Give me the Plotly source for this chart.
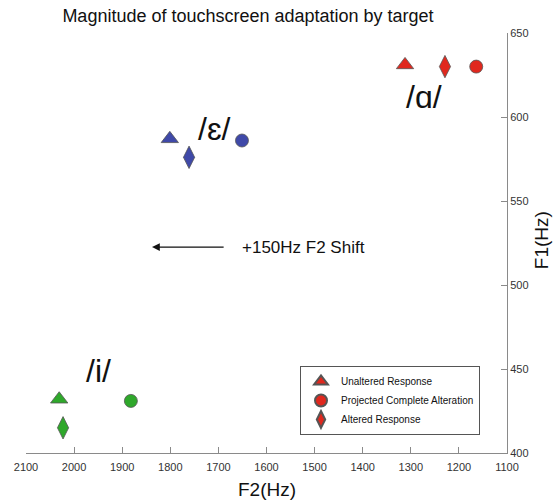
import plotly.graph_objects as go

# Formant values (Hz) per vowel target
vowels = ["/ɑ/", "/ɛ/", "/i/"]
colors = ["#e0281e", "#3f49a8", "#2fa82b"]

unaltered_f2 = [1312, 1801, 2031]
unaltered_f1 = [631, 587, 432]

projected_f2 = [1164, 1651, 1882]
projected_f1 = [630, 586, 431]

altered_f2 = [1229, 1761, 2023]
altered_f1 = [630, 576, 415]

# Vowel label anchor positions (F2, F1)
label_f2 = [1273, 1709, 1950]
label_f1 = [612, 593, 449]

series = [
    ("Unaltered Response", "triangle-up", unaltered_f2, unaltered_f1, 15),
    ("Projected Complete Alteration", "circle", projected_f2, projected_f1, 13),
    ("Altered Response", "diamond-tall", altered_f2, altered_f1, 16),
]

fig = go.Figure()

for name, symbol, f2, f1, size in series:
    for i, v in enumerate(vowels):
        fig.add_trace(go.Scatter(
            x=[f2[i]], y=[f1[i]], mode="markers", name=name,
            showlegend=(i == 0),
            marker=dict(symbol=symbol, size=size, color=colors[i],
                        line=dict(color="#555555", width=0.8)),
        ))

for i, v in enumerate(vowels):
    fig.add_annotation(x=label_f2[i], y=label_f1[i], text=v, showarrow=False,
                       font=dict(size=32, color="#111111"))

# Shift arrow and its caption
fig.add_annotation(x=1838, y=522.6, ax=1686, ay=522.6, axref="x", ayref="y",
                   text="", showarrow=True, arrowhead=2, arrowsize=1.3,
                   arrowwidth=1.2, arrowcolor="#111111")
fig.add_annotation(x=1655, y=522.6, text="+150Hz F2 Shift", showarrow=False,
                   xanchor="left", yanchor="middle", font=dict(size=17, color="#111111"))

# Axis titles
fig.add_annotation(x=0.501, y=-0.088, xref="paper", yref="paper", text="F2(Hz)",
                   xanchor="center", yanchor="middle",
                   showarrow=False, font=dict(size=19, color="#111111"))
fig.add_annotation(x=1.071, y=0.507, xref="paper", yref="paper", text="F1(Hz)",
                   xanchor="center", yanchor="middle",
                   textangle=-90, showarrow=False, font=dict(size=19, color="#111111"))

fig.update_layout(
    width=553, height=502,
    margin=dict(l=26, r=46, t=33, b=49),
    paper_bgcolor="white", plot_bgcolor="white",
    font=dict(family="Liberation Sans, Arial, sans-serif", color="#222222"),
    title=dict(text="Magnitude of touchscreen adaptation by target",
               x=248 / 553, xanchor="center", y=1 - 16 / 502, yanchor="middle",
               font=dict(size=18, color="#111111")),
    xaxis=dict(range=[2100, 1100], tickvals=list(range(2100, 1099, -100)),
               showgrid=False, zeroline=False, showline=True, linecolor="#8a8a8a",
               linewidth=1, ticks="inside", ticklen=6, tickcolor="#8a8a8a",
               ticklabelstandoff=4,
               tickfont=dict(size=11, color="#333333")),
    yaxis=dict(range=[400, 650], tickvals=[400, 450, 500, 550, 600, 650], side="right",
               showgrid=False, zeroline=False, showline=True, linecolor="#8a8a8a",
               linewidth=1, ticks="inside", ticklen=6, tickcolor="#8a8a8a",
               tickfont=dict(size=11, color="#333333")),
    legend=dict(x=(300 - 26) / 481, y=(453 - 366) / 420, xanchor="left", yanchor="top",
                bordercolor="#555555", borderwidth=1, bgcolor="white",
                font=dict(size=10, color="#111111"), itemsizing="constant",
                tracegroupgap=0),
    showlegend=True,
)

fig.write_html("out.html")
